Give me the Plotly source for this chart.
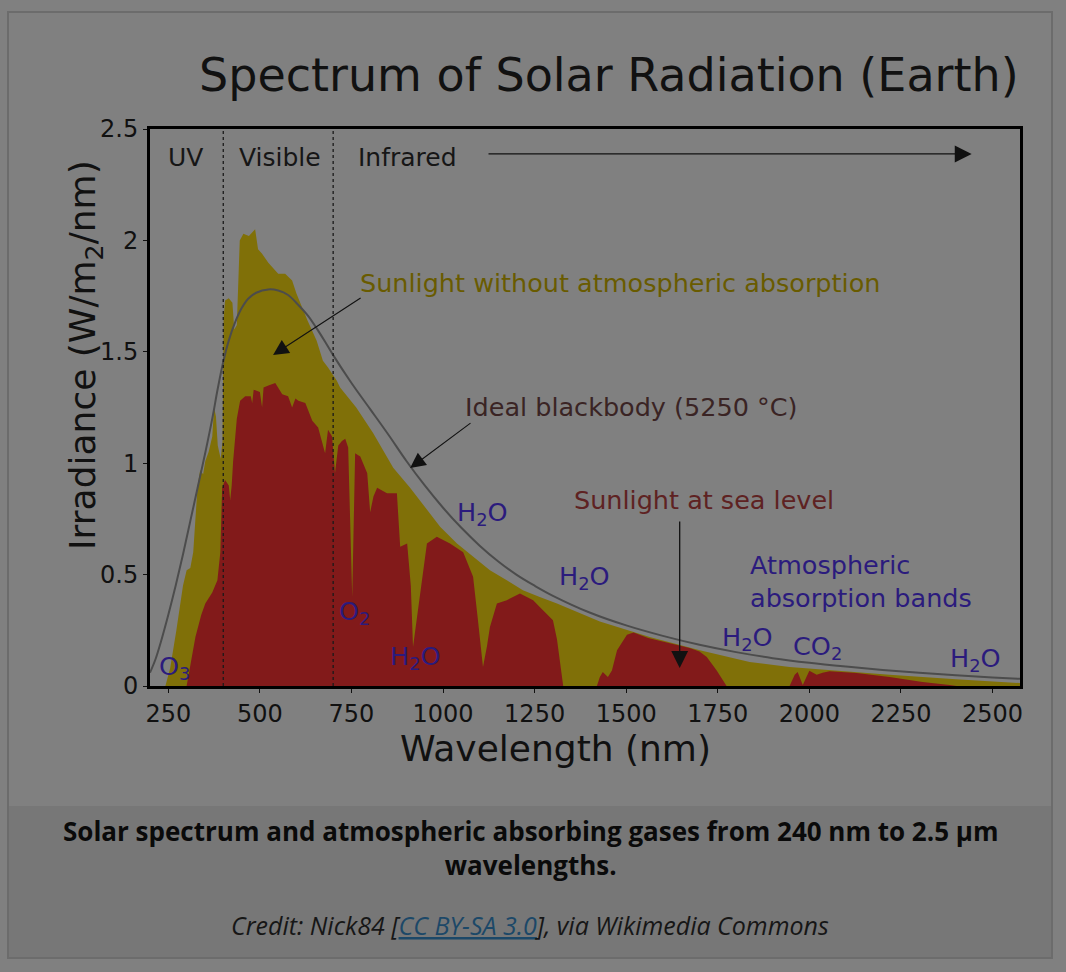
import plotly.graph_objects as go

# ---------------- data ----------------
# Sunlight without atmospheric absorption (top of the yellow area)
top_nm = [242, 255, 272, 290, 300, 310, 318, 324, 330, 337, 345, 351, 360, 370, 375, 380,
          385, 393, 398, 401, 405, 415, 425, 430, 437, 445, 455, 470, 480, 487, 495, 506,
          523, 540, 550, 569, 588, 600, 615, 630, 655, 672, 686, 710, 719, 763, 809, 864,
          910, 956, 992, 1038, 1082, 1128, 1174, 1218, 1264, 1311, 1428, 1564, 1701, 1837,
          1946, 2100, 2219, 2400, 2575]
top_val = [0.0, 0.08, 0.25, 0.45, 0.52, 0.53, 0.60, 0.745, 0.90, 0.97, 0.95, 1.01, 1.05, 1.12, 1.25, 1.21,
           1.08, 1.02, 1.10, 1.65, 1.73, 1.74, 1.72, 1.60, 1.62, 2.00, 2.03, 2.02, 2.04, 2.05, 1.96, 1.94,
           1.90, 1.87, 1.85, 1.85, 1.82, 1.76, 1.70, 1.64, 1.55, 1.46, 1.43, 1.37, 1.34, 1.25, 1.135, 0.98,
           0.89, 0.79, 0.715, 0.64, 0.58, 0.52, 0.475, 0.43, 0.40, 0.37, 0.29, 0.22, 0.16, 0.108,
           0.085, 0.065, 0.05, 0.03, 0.013]

# Sunlight at sea level (top of the red area)
sea_nm = [300, 305, 315, 324, 340, 351, 370, 384, 392, 397, 405, 415, 419, 423, 427, 437, 446,
          460, 475, 479, 483, 500, 506, 510, 525, 542, 561, 577, 588, 597, 605, 624, 643, 659,
          678, 686, 697, 705, 714, 724, 733, 741, 752, 760, 774, 793, 801, 810, 820, 847, 874,
          880, 883, 902, 912, 918, 928, 937, 956, 983, 1019, 1055, 1082, 1095, 1109, 1120, 1128,
          1147, 1174, 1210, 1246, 1264, 1300, 1311, 1319, 1328, 1420, 1428, 1436, 1450, 1461,
          1475, 1502, 1520, 1560, 1600, 1640, 1673, 1700, 1720, 1747, 1774, 1946, 1960, 1968,
          1982, 1992, 2000, 2020, 2036, 2055, 2129, 2219, 2309, 2383, 2402]
sea_val = [0.0, 0.05, 0.15, 0.22, 0.32, 0.37, 0.42, 0.475, 0.60, 0.89, 0.925, 0.90, 0.835, 0.90, 1.01, 1.20, 1.28,
           1.30, 1.30, 1.27, 1.33, 1.32, 1.25, 1.34, 1.35, 1.36, 1.31, 1.30, 1.25, 1.29, 1.28, 1.27, 1.19, 1.16,
           1.045, 1.15, 1.12, 0.955, 1.08, 1.10, 1.11, 1.07, 0.40, 1.045, 1.03, 0.955, 0.78, 0.85, 0.89, 0.865, 0.865,
           0.70, 0.625, 0.64, 0.45, 0.175, 0.30, 0.42, 0.64, 0.67, 0.64, 0.60, 0.49, 0.30, 0.085, 0.18, 0.265,
           0.37, 0.385, 0.415, 0.385, 0.355, 0.295, 0.21, 0.10, 0.0, 0.0, 0.04, 0.063, 0.04, 0.07,
           0.16, 0.23, 0.24, 0.215, 0.20, 0.185, 0.17, 0.155, 0.13, 0.07, 0.0, 0.0, 0.05, 0.063,
           0.005, 0.04, 0.068, 0.05, 0.06, 0.066, 0.058, 0.04, 0.018, 0.005, 0.0]

# Ideal blackbody (5250 °C)
bb_nm = [200, 215, 230, 250, 270, 290, 310, 330, 350, 370, 385, 400, 415, 433, 450, 468, 490,
         523, 550, 577, 605, 632, 655, 678, 700, 750, 800, 850, 900, 950, 1000, 1050, 1100,
         1150, 1200, 1250, 1300, 1400, 1500, 1600, 1700, 1800, 1900, 2000, 2100, 2200, 2300,
         2400, 2500, 2575]
bb_val = [0.06, 0.12, 0.20, 0.32, 0.45, 0.59, 0.74, 0.89, 1.04, 1.20, 1.335, 1.455, 1.55, 1.635, 1.695, 1.738, 1.765,
          1.78, 1.775, 1.755, 1.71, 1.66, 1.605, 1.545, 1.485, 1.36, 1.245, 1.13, 1.01, 0.90, 0.80, 0.71, 0.63,
          0.56, 0.50, 0.45, 0.405, 0.33, 0.272, 0.225, 0.185, 0.152, 0.125, 0.104, 0.087, 0.072, 0.059,
          0.048, 0.038, 0.032]

x_ticks = [250, 500, 750, 1000, 1250, 1500, 1750, 2000, 2250, 2500]
y_ticks = [0, 0.5, 1, 1.5, 2, 2.5]
y_tick_text = ["0", "0.5", "1", "1.5", "2", "2.5"]
region_bounds = [400, 700]
region_labels = ["UV", "Visible", "Infrared"]
region_label_nm = [296, 555, 902]

# absorption band labels: (text, wavelength, irradiance)
band_text = ["H<sub>2</sub>O", "H<sub>2</sub>O", "H<sub>2</sub>O", "H<sub>2</sub>O",
             "O<sub>2</sub>", "H<sub>2</sub>O", "O<sub>3</sub>", "CO<sub>2</sub>"]
band_nm = [1109, 1387, 1832, 2453, 757, 926, 268, 2022]
band_val = [0.776, 0.485, 0.215, 0.117, 0.332, 0.126, 0.085, 0.171]

# ---------------- layout geometry ----------------
W, H = 1066, 972
L, R, T, B = 150, 46, 129, 286
PW, PH = W - L - R, H - T - B


def px(xp):
    return (xp - L) / PW


def py(yp):
    return (H - B - yp) / PH


BG = "#808080"
YELLOW = "#807008"
RED = "#821a1a"
BB_LINE = "#4c4c4c"
BLUE = "#2b1b7d"
FONT = "DejaVu Sans"
AFS = 25.5

fig = go.Figure()
fig.add_trace(go.Scatter(x=top_nm, y=top_val, mode="lines", fill="tozeroy",
                         line=dict(width=0, color=YELLOW), fillcolor=YELLOW,
                         hoverinfo="skip", showlegend=False))
fig.add_trace(go.Scatter(x=sea_nm, y=sea_val, mode="lines", fill="tozeroy",
                         line=dict(width=0, color=RED), fillcolor=RED,
                         hoverinfo="skip", showlegend=False))
fig.add_trace(go.Scatter(x=bb_nm, y=bb_val, mode="lines", line=dict(width=2, color=BB_LINE, shape="spline"),
                         hoverinfo="skip", showlegend=False))

shapes = []
# page border and caption band
shapes.append(dict(type="rect", xref="paper", yref="paper", x0=px(8), x1=px(1052), y0=py(806), y1=py(958),
                   fillcolor="#777777", line=dict(width=0), layer="below"))
shapes.append(dict(type="rect", xref="paper", yref="paper", x0=px(8), x1=px(1052), y0=py(958), y1=py(12),
                   fillcolor="rgba(0,0,0,0)", line=dict(width=2, color="#6c6c6c"), layer="below"))
for b in region_bounds:
    shapes.append(dict(type="line", xref="x", yref="y", x0=b, x1=b, y0=0, y1=2.5,
                       line=dict(color="#1a1a1a", width=1.3, dash="dot")))

annotations = []
# title
annotations.append(dict(text="Spectrum of Solar Radiation (Earth)", xref="paper", yref="paper",
                        x=px(609), y=py(75), showarrow=False, xanchor="center", yanchor="middle",
                        font=dict(family=FONT, size=46, color="#111111")))
# axis titles
annotations.append(dict(text="Wavelength (nm)", xref="paper", yref="paper", x=px(555), y=py(748),
                        showarrow=False, xanchor="center", yanchor="middle",
                        font=dict(family=FONT, size=36, color="#111111")))
annotations.append(dict(text="Irradiance (W/m<sub>2</sub>/nm)", xref="paper", yref="paper", x=px(85), y=py(355),
                        showarrow=False, textangle=-90, xanchor="center", yanchor="middle",
                        font=dict(family=FONT, size=36, color="#111111")))
# region labels
for t, n in zip(region_labels, region_label_nm):
    annotations.append(dict(text=t, x=n, y=2.374, xref="x", yref="y", showarrow=False,
                            font=dict(family=FONT, size=25, color="#161616")))
annotations.append(dict(text="", x=2443, y=2.388, ax=1120, ay=2.388, xref="x", yref="y", axref="x", ayref="y",
                        showarrow=True, arrowhead=2, arrowsize=2.6, arrowwidth=1.3, arrowcolor="#111111",
                        standoff=0))
# series labels + arrows
annotations.append(dict(text="Sunlight without atmospheric absorption", x=768, y=1.809, xref="x", yref="y",
                        xanchor="left", showarrow=False, font=dict(family=FONT, size=AFS, color="#695b00")))
annotations.append(dict(text="", x=536, y=1.486, ax=779, ay=1.746, xref="x", yref="y", axref="x", ayref="y",
                        showarrow=True, arrowhead=2, arrowsize=2.8, arrowwidth=1.1, arrowcolor="#111111",
                        standoff=0))
annotations.append(dict(text="Ideal blackbody (5250 °C)", x=1054, y=1.252, xref="x", yref="y",
                        xanchor="left", showarrow=False, font=dict(family=FONT, size=AFS, color="#3a2424")))
annotations.append(dict(text="", x=910, y=0.978, ax=1079, ay=1.185, xref="x", yref="y", axref="x", ayref="y",
                        showarrow=True, arrowhead=2, arrowsize=2.8, arrowwidth=1.1, arrowcolor="#111111",
                        standoff=0))
annotations.append(dict(text="Sunlight at sea level", x=1352, y=0.835, xref="x", yref="y",
                        xanchor="left", showarrow=False, font=dict(family=FONT, size=AFS, color="#5e2222")))
annotations.append(dict(text="", x=1646, y=0.081, ax=1646, ay=0.745, xref="x", yref="y", axref="x", ayref="y",
                        showarrow=True, arrowhead=2, arrowsize=2.6, arrowwidth=1.3, arrowcolor="#111111",
                        standoff=0))
annotations.append(dict(text="Atmospheric<br>absorption bands", x=1832, y=0.471, xref="x", yref="y",
                        xanchor="left", align="left", showarrow=False,
                        font=dict(family=FONT, size=AFS, color=BLUE)))
for t, n, v in zip(band_text, band_nm, band_val):
    annotations.append(dict(text=t, x=n, y=v, xref="x", yref="y", showarrow=False,
                            font=dict(family=FONT, size=AFS, color=BLUE)))

# caption
annotations.append(dict(text="<b>Solar spectrum and atmospheric absorbing gases from 240 nm to 2.5 μm<br>wavelengths.</b>",
                        xref="paper", yref="paper", x=px(530), y=py(848), showarrow=False,
                        xanchor="center", yanchor="middle", align="center",
                        font=dict(family="Open Sans", size=26, color="#0a0a0a")))
annotations.append(dict(text="<i>Credit: Nick84 [<span style='color:#1c4868'><u>CC BY-SA 3.0</u></span>], via Wikimedia Commons</i>",
                        xref="paper", yref="paper", x=px(530), y=py(925), showarrow=False,
                        xanchor="center", yanchor="middle",
                        font=dict(family="Open Sans", size=25, color="#161616")))

fig.update_layout(
    width=W, height=H, margin=dict(l=L, r=R, t=T, b=B, autoexpand=False),
    paper_bgcolor=BG, plot_bgcolor=BG,
    shapes=shapes, annotations=annotations, showlegend=False,
    xaxis=dict(range=[200, 2575], tickvals=x_ticks, ticks="outside", ticklen=4, tickcolor="#111",
               showgrid=False, zeroline=False, showline=True, linecolor="#000000", linewidth=3, mirror=True,
               tickfont=dict(family=FONT, size=24, color="#111111")),
    yaxis=dict(range=[0, 2.5], tickvals=y_ticks, ticktext=y_tick_text, ticks="outside", ticklen=4,
               tickcolor="#111", showgrid=False, zeroline=False, showline=True, linecolor="#000000",
               linewidth=3, mirror=True, tickfont=dict(family=FONT, size=24, color="#111111")),
)

page_fix = ("document.documentElement.style.background='#808080';"
            "document.body.style.margin='0';"
            "document.body.style.background='#808080';"
            "document.body.style.overflow='hidden';")
fig.write_html("out.html", post_script=page_fix, config={"displayModeBar": False})
